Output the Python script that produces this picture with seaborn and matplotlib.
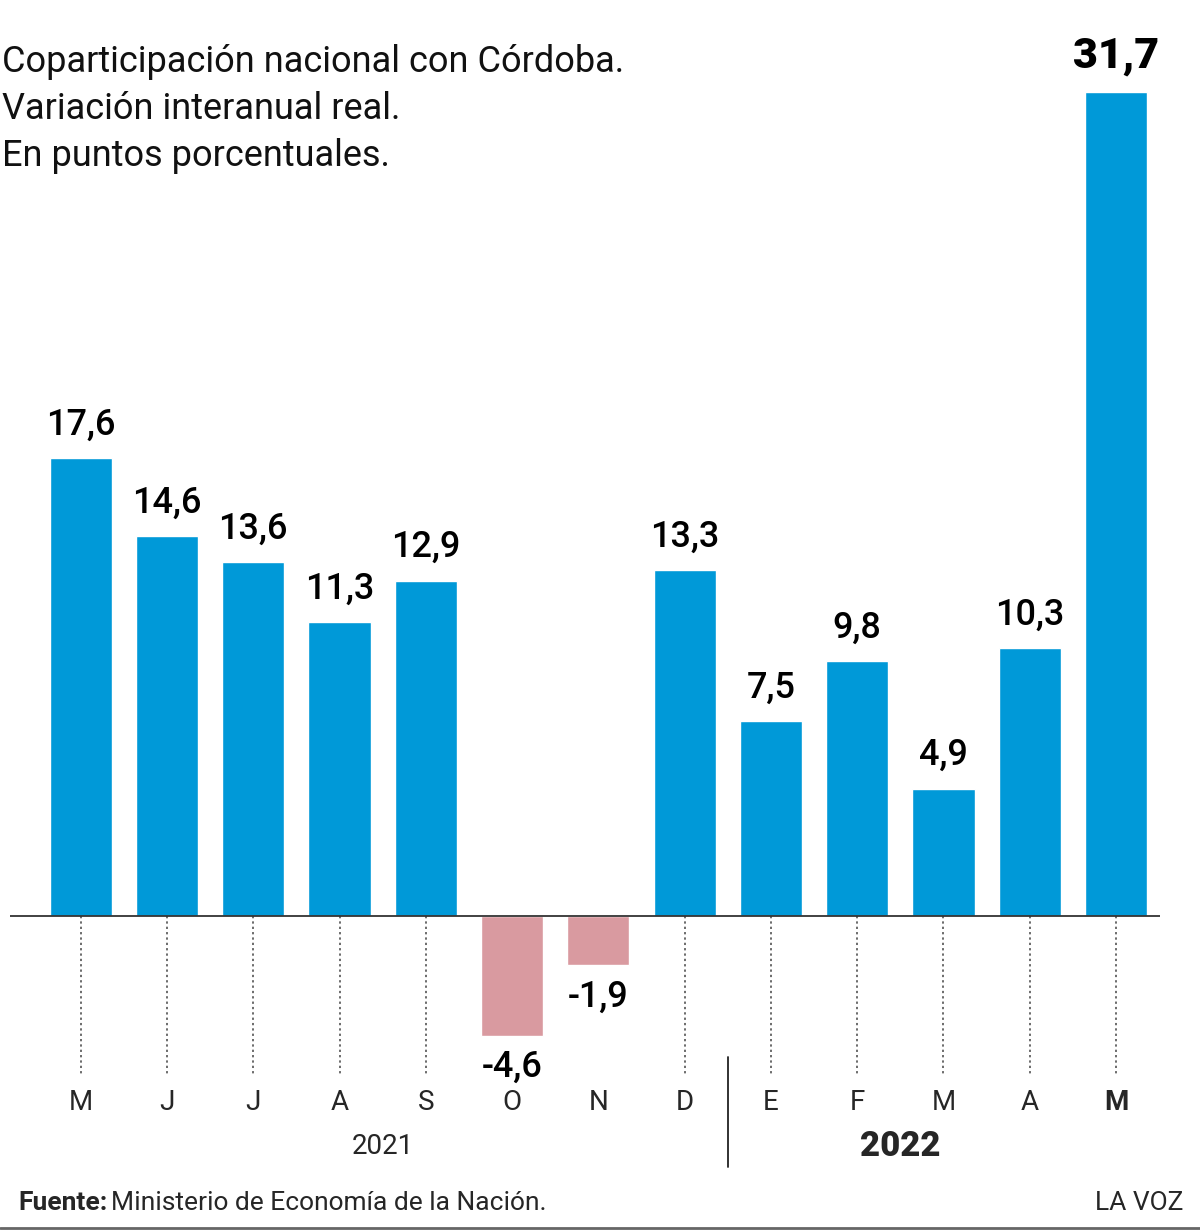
import pandas as pd
import matplotlib.pyplot as plt
import seaborn as sns

meses = ['M', 'J', 'J', 'A', 'S', 'O', 'N', 'D', 'E', 'F', 'M', 'A', 'M']
valores = [17.6, 14.6, 13.6, 11.3, 12.9, -4.6, -1.9, 13.3, 7.5, 9.8, 4.9, 10.3, 31.7]
anios = ['2021', '2022']

AZUL = '#0099d8'
ROSA = '#d99aa0'

sns.set_theme(style='white')
plt.rcParams['font.family'] = ['Roboto', 'DejaVu Sans']

W, H = 1200, 1231
fig = plt.figure(figsize=(W / 100, H / 100), dpi=100)
# axes placed in pixel terms: x 10..1160, y 80..1080 (from top)
ax = fig.add_axes([10 / W, 1 - 1080 / H, 1150 / W, 1000 / H])

df = pd.DataFrame({'pos': [str(i) for i in range(len(valores))],
                   'valor': valores,
                   'signo': ['neg' if v < 0 else 'pos' for v in valores]})
sns.barplot(data=df, x='pos', y='valor', hue='signo', dodge=False,
            palette={'pos': AZUL, 'neg': ROSA}, width=0.72, legend=False,
            saturation=1, ax=ax)

ax.set_xlim(-0.82, 12.51)
ax.set_ylim(-6.31, 32.15)
ax.axhline(0, color='#333333', lw=1.3, zorder=5)
for s in ax.spines.values():
    s.set_visible(False)
ax.set_xticks([])
ax.set_yticks([])
ax.set_xlabel('')
ax.set_ylabel('')

# dotted guides under the positive bars
for i, v in enumerate(valores):
    if v < 0:
        continue
    ax.plot([i, i], [0, -6.1], ls=(0, (1.5, 2)), color='#444444', lw=1.1,
            zorder=1, clip_on=False)

# value labels
for i, v in enumerate(valores):
    txt = f'{v:.1f}'.replace('.', ',')
    last = i == len(valores) - 1
    if v >= 0:
        ax.text(i, v + 0.6, txt, ha='center', va='bottom',
                fontsize=31 if last else 26,
                fontweight='black' if last else 'medium', color='black')
    else:
        ax.text(i, v - 0.55, txt, ha='center', va='top', fontsize=26,
                fontweight='medium', color='black')

# month labels
trans = ax.get_xaxis_transform()
for i, m in enumerate(meses):
    last = i == len(meses) - 1
    ax.text(i, -(1103 - 1080) / 1000, m, transform=trans, ha='center', va='center',
            fontsize=20, fontweight='bold' if last else 'normal')

ax.text(3.5, -(1147 - 1080) / 1000, anios[0], transform=trans, ha='center',
        va='center', fontsize=20)
ax.text(9.5, -(1147 - 1080) / 1000, anios[1], transform=trans, ha='center',
        va='center', fontsize=25, fontweight='black')
ax.plot([7.5, 7.5], [-(1057 - 1080) / 1000, -(1167 - 1080) / 1000],
        transform=trans, color='#222222', lw=1.3, clip_on=False)

# title
titulo = ['Coparticipación nacional con Córdoba.',
          'Variación interanual real.',
          'En puntos porcentuales.']
for k, linea in enumerate(titulo):
    fig.text(2 / W, 1 - (62 + 47 * k) / H, linea, ha='left', va='center',
             fontsize=26, color='#111111')

# footer
t = fig.text(18 / W, 1 - 1203 / H, 'Fuente:', ha='left', va='center', fontsize=19,
             fontweight='bold')
fig.add_artist(plt.Annotation('Ministerio de Economía de la Nación.', xy=(1, 0.5),
                              xycoords=t, xytext=(3, 0), textcoords='offset points',
                              ha='left', va='center', fontsize=19))
fig.text(1183 / W, 1 - 1203 / H, 'LA VOZ', ha='right', va='center', fontsize=19)
fig.add_artist(plt.Line2D([0, 1], [1 - 1228 / H, 1 - 1228 / H], color='#666666',
                          lw=2, transform=fig.transFigure))

fig.savefig('out.png', dpi=100)
